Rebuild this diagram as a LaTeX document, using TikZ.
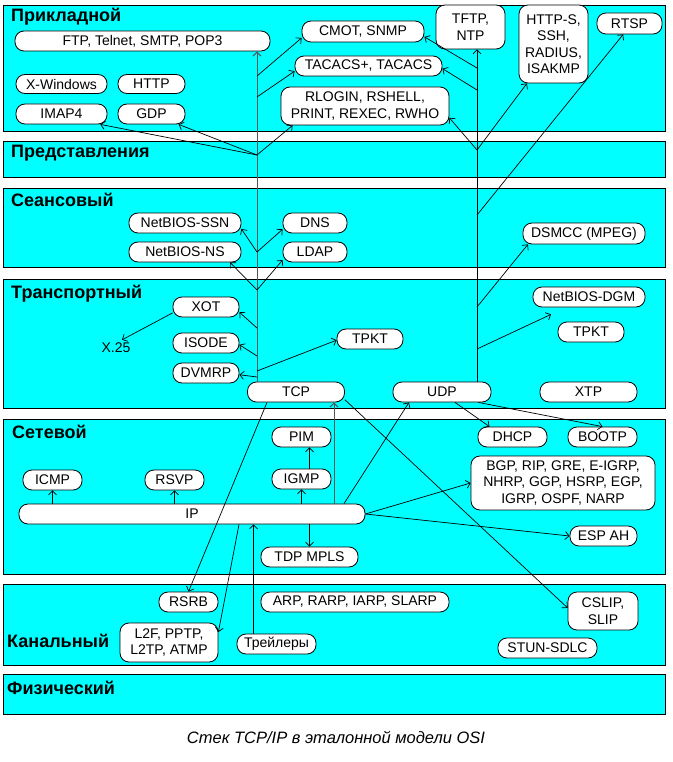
\documentclass[tikz,border=0pt]{standalone}
\usepackage{fontspec}
\setmainfont{Liberation Sans}
\usetikzlibrary{arrows.meta,calc}
\definecolor{layercyan}{RGB}{0,255,255}
\definecolor{trunkgray}{RGB}{85,85,85}
\begin{document}
\begin{tikzpicture}[x=1pt,y=-1pt,
 layer/.style={draw=black, fill=layercyan, line width=0.8pt},
 pbox/.style={draw=black, fill=white, line width=0.8pt, rounded corners=9pt, inner sep=0pt, align=center, font=\fontsize{14}{16.5}\selectfont},
 lbl/.style={inner sep=0pt, font=\fontsize{14}{16.5}\selectfont},
 head/.style={anchor=base west, inner sep=0pt, font=\bfseries\fontsize{18}{20}\selectfont},
 conn/.style={draw=black, line width=0.7pt, -{Straight Barb[length=4pt,width=8pt]}},
 gconn/.style={conn, draw=trunkgray, line width=1pt},
]
\useasboundingbox (0,0) rectangle (672,762);
% layers
\path[layer] (3,5) rectangle (665,131);
\path[layer] (3,141) rectangle (665,177);
\path[layer] (3,188) rectangle (665,267);
\path[layer] (3,279) rectangle (665,408);
\path[layer] (3,419) rectangle (665,574);
\path[layer] (3,584) rectangle (665,665);
\path[layer] (3,674) rectangle (665,714);
\node[head] (h1) at (11,22) {Прикладной};
\node[head] (h2) at (11,158) {Представления};
\node[head] (h3) at (11,206) {Сеансовый};
\node[head] (h4) at (11,298) {Транспортный};
\node[head] (h5) at (12,438) {Сетевой};
\node[head] (h6) at (7,647) {Канальный};
\node[head] (h7) at (7,694) {Физический};
\node[anchor=base, inner sep=0pt, font=\itshape\fontsize{16.5}{18}\selectfont] (cap) at (336,743) {Стек TCP/IP в эталонной модели OSI};
% application
\node[pbox, minimum width=255pt, minimum height=20pt] (ftp) at (142.5,41) {FTP, Telnet, SMTP, POP3};
\node[pbox, minimum width=91pt, minimum height=19pt] (xwin) at (61.5,84) {X-Windows};
\node[pbox, minimum width=67pt, minimum height=19pt] (http) at (151.5,84) {HTTP};
\node[pbox, minimum width=91pt, minimum height=20pt] (imap) at (61.5,114) {IMAP4};
\node[pbox, minimum width=67pt, minimum height=20pt] (gdp) at (151.5,114) {GDP};
\node[pbox, minimum width=122pt, minimum height=21pt] (cmot) at (363,31.5) {CMOT, SNMP};
\node[pbox, minimum width=147pt, minimum height=20pt] (tacacs) at (368.5,66) {TACACS+, TACACS};
\node[pbox, minimum width=168pt, minimum height=38pt] (rlogin) at (365,106) {RLOGIN, RSHELL,\\PRINT, REXEC, RWHO};
\node[pbox, minimum width=69pt, minimum height=44pt] (tftp) at (470.5,27) {TFTP,\\NTP};
\node[pbox, minimum width=69pt, minimum height=78pt] (https) at (553.5,44) {HTTP-S,\\SSH,\\RADIUS,\\ISAKMP};
\node[pbox, minimum width=65pt, minimum height=21pt] (rtsp) at (629.5,23.5) {RTSP};
% session
\node[pbox, minimum width=112pt, minimum height=20pt] (ssn) at (185,223) {NetBIOS-SSN};
\node[pbox, minimum width=112pt, minimum height=20pt] (ns) at (185,252) {NetBIOS-NS};
\node[pbox, minimum width=64pt, minimum height=20pt] (dns) at (315,223) {DNS};
\node[pbox, minimum width=64pt, minimum height=20pt] (ldap) at (315,252) {LDAP};
\node[pbox, minimum width=122pt, minimum height=21pt] (dsmcc) at (584,233.5) {DSMCC (MPEG)};
% transport
\node[pbox, minimum width=66pt, minimum height=20pt] (xot) at (206,307) {XOT};
\node[lbl] (x25) at (116,348) {X.25};
\node[pbox, minimum width=66pt, minimum height=20pt] (isode) at (206,343) {ISODE};
\node[pbox, minimum width=66pt, minimum height=20pt] (dvmrp) at (206,373) {DVMRP};
\node[pbox, minimum width=97pt, minimum height=20pt] (tcp) at (296,392) {TCP};
\node[pbox, minimum width=66pt, minimum height=20pt] (tpkt1) at (370,339) {TPKT};
\node[pbox, minimum width=98pt, minimum height=20pt] (udp) at (442,392) {UDP};
\node[pbox, minimum width=112pt, minimum height=20pt] (dgm) at (589,297) {NetBIOS-DGM};
\node[pbox, minimum width=66pt, minimum height=20pt] (tpkt2) at (591,332) {TPKT};
\node[pbox, minimum width=97pt, minimum height=20pt] (xtp) at (588.5,392) {XTP};
% network
\node[pbox, minimum width=59pt, minimum height=20pt] (pim) at (301.5,437) {PIM};
\node[pbox, minimum width=59pt, minimum height=20pt] (igmp) at (301.5,479) {IGMP};
\node[pbox, minimum width=59pt, minimum height=20pt] (icmp) at (52.5,480) {ICMP};
\node[pbox, minimum width=59pt, minimum height=20pt] (rsvp) at (174.5,480) {RSVP};
\node[pbox, minimum width=346pt, minimum height=20pt] (ip) at (192,514) {IP};
\node[pbox, minimum width=97pt, minimum height=20pt] (tdp) at (309.5,557) {TDP MPLS};
\node[pbox, minimum width=69pt, minimum height=20pt] (dhcp) at (512.5,437) {DHCP};
\node[pbox, minimum width=69pt, minimum height=20pt] (bootp) at (602.5,437) {BOOTP};
\node[pbox, minimum width=184pt, minimum height=54pt] (bgp) at (563,483) {BGP, RIP, GRE, E-IGRP,\\NHRP, GGP, HSRP, EGP,\\IGRP, OSPF, NARP};
\node[pbox, minimum width=67pt, minimum height=20pt] (esp) at (603.5,536) {ESP AH};
% link
\node[pbox, minimum width=59pt, minimum height=20pt] (rsrb) at (188.5,602) {RSRB};
\node[pbox, minimum width=188pt, minimum height=20pt] (arp) at (355,602) {ARP, RARP, IARP, SLARP};
\node[pbox, minimum width=98pt, minimum height=39pt] (l2f) at (169,642.5) {L2F, PPTP,\\L2TP, ATMP};
\node[pbox, minimum width=79pt, minimum height=20pt] (trail) at (276.5,644) {Трейлеры};
\node[pbox, minimum width=70pt, minimum height=38pt] (cslip) at (603,611) {CSLIP,\\SLIP};
\node[pbox, minimum width=99pt, minimum height=20pt] (stun) at (547.5,648) {STUN-SDLC};
% branch points
\coordinate (tA) at (257,76);
\coordinate (tB) at (257,97);
\coordinate (tC) at (257,155);
\coordinate (tD) at (257,252);
\coordinate (tE) at (257,290);
\coordinate (tF) at (257,328);
\coordinate (tG) at (257,356);
\coordinate (tH) at (257,371);
\coordinate (tI) at (257,377);
\coordinate (uA) at (477,68);
\coordinate (uB) at (477,90);
\coordinate (uC) at (477,150);
\coordinate (uD) at (477,215);
\coordinate (uE) at (477,307);
\coordinate (uF) at (477,349);
% trunks
\draw[gconn] (tcp.north -| tA) -- (ftp.south -| tA);
\draw[conn] (udp.north -| uA) -- (tftp.south -| uA);
% TCP branches
\draw[conn] (tA) -- (cmot.186);
\draw[conn] (tB) -- (tacacs.184);
\draw[conn] (tC) -- (imap.345);
\draw[conn] (tC) -- (gdp.339);
\draw[conn] (tC) -- (rlogin.195);
\draw[conn] (tD) -- (ssn.354);
\draw[conn] (tD) -- (dns.191);
\draw[conn] (tE) -- (ns.347);
\draw[conn] (tE) -- (ldap.194);
\draw[conn] (tF) -- (xot.351);
\draw[conn] (tG) -- (isode.357);
\draw[conn] (tH) -- (tpkt1.182);
\draw[conn] (tI) -- (dvmrp.357);
\draw[conn] (xot.190) -- ([xshift=6pt,yshift=3pt]x25.north);
% UDP branches
\draw[conn] (uA) -- (cmot.355);
\draw[conn] (uB) -- (tacacs.358);
\draw[conn] (uC) -- (rlogin.352);
\draw[conn] (uC) -- (https.236);
\draw[conn] (uD) -- (rtsp.240);
\draw[conn] (uE) -- (dsmcc.191);
\draw[conn] (uF) -- ($(dgm.south)+(-38,7)$);
\draw[conn] ($(udp.south)+(13,0)$) -- ($(dhcp.north)+(-23,0)$);
\draw[conn] (udp.344) -- (bootp.north);
% network
\coordinate (tcpin) at ($(tcp.south)+(38,0)$);
\draw[gconn] (ip.north -| tcpin) -- (tcpin);
\draw[conn] ($(ip.north)+(152,0)$) -- ($(udp.south)+(-33,0)$);
\draw[conn] (ip.north -| icmp.south) -- (icmp.south);
\draw[conn] (ip.north -| rsvp.south) -- (rsvp.south);
\draw[conn] (ip.north -| igmp.south) -- (igmp.south);
\draw[conn] ($(igmp.north)+(8,0)$) -- ($(pim.south)+(8,0)$);
\draw[conn] (ip.south -| tdp.north) -- (tdp.north);
\draw[conn] (ip.east) -- (bgp.west);
\draw[conn] (ip.east) -- (esp.west);
% link
\draw[conn] ($(tcp.south)+(-29,0)$) -- (rsrb.north);
\draw[conn] (tcp.351) -- (cslip.175);
\draw[conn] ($(ip.south)+(47,0)$) -- (l2f.12);
\coordinate (tr) at ($(trail.north)+(-23,0)$);
\draw[conn] (tr) -- (ip.south -| tr);
\end{tikzpicture}
\end{document}
